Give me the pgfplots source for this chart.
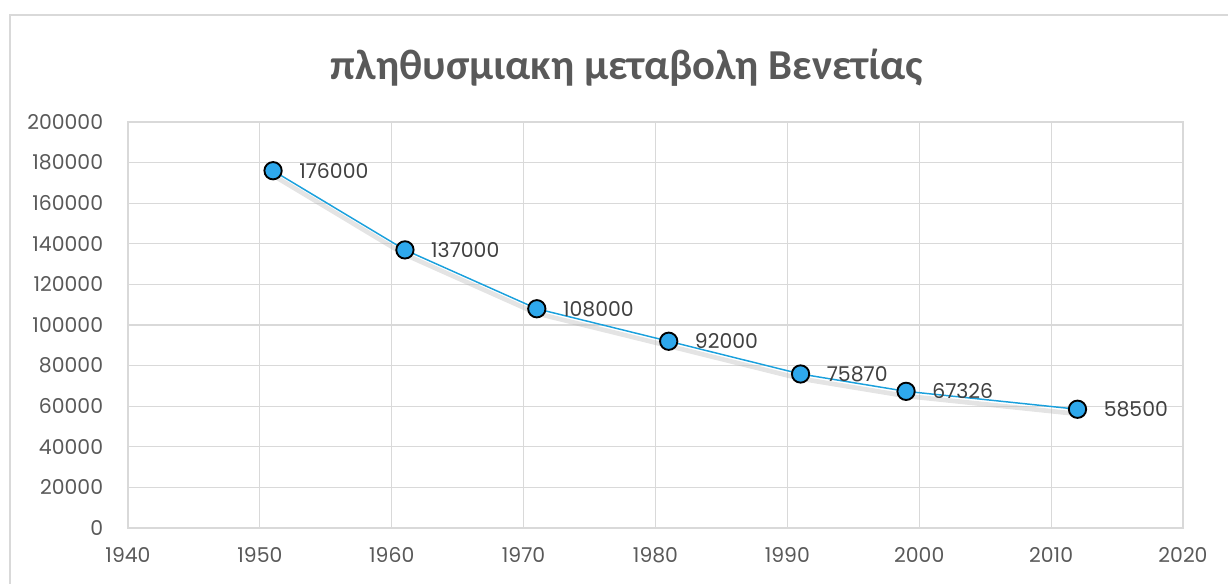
\documentclass[border=0pt]{standalone}
\usepackage{pgfplots}
\pgfplotsset{compat=1.18}
\usepackage{fontspec}
\setmainfont{Poppins}
\newfontfamily\titlefont{Carlito}
\definecolor{gridc}{HTML}{D9D9D9}
\definecolor{txt}{HTML}{595959}
\definecolor{lbl}{HTML}{404040}
\definecolor{linec}{HTML}{1AA0DC}
\definecolor{markc}{HTML}{2EA8EC}
\begin{document}
\begin{tikzpicture}
\useasboundingbox (-96pt,-41.25pt) rectangle (825pt,396pt);
\draw[gridc, line width=1.5pt] (-88.5pt,-60pt) -- (-88.5pt,384.75pt) -- (840pt,384.75pt);
\node[text=txt, font=\titlefont\bfseries\fontsize{32}{36}\selectfont] at (374.25pt,345pt) {πληθυσμιακη μεταβολη Βενετίας};
\begin{axis}[
  at={(0pt,0pt)}, anchor=south west,
  scale only axis, width=791.25pt, height=304.5pt,
  xmin=1940, xmax=2020, ymin=0, ymax=200000,
  xtick={1940,1950,...,2020},
  ytick={0,20000,...,200000},
  grid=major, grid style={gridc, line width=0.9pt},
  axis line style={gridc, line width=0.9pt},
  major tick length=0pt,
  tick label style={font=\fontsize{15.3}{18}\selectfont, text=txt, inner sep=0pt},
  yticklabel style={xshift=-18.5pt},
  xticklabel style={yshift=-14.5pt},
  scaled ticks=false,
  /pgf/number format/assume math mode=true,
  xticklabel={\pgfmathprintnumber[1000 sep={}]{\tick}},
  yticklabel={\pgfmathprintnumber[fixed, 1000 sep={}]{\tick}},
  clip=false,
  nodes near coords,
  point meta=explicit symbolic,
  every node near coord/.append style={anchor=west, xshift=19pt, yshift=0pt, font=\fontsize{15.3}{18}\selectfont, text=lbl, inner sep=0pt},
]
\addplot[black!30, opacity=0.35, line width=3.5pt, forget plot, nodes near coords={}, shift={(0pt,-3.5pt)}] table[meta index=2] {
x y l
1951 176000 {}
1961 137000 {}
1971 108000 {}
1981 92000 {}
1991 75870 {}
1999 67326 {}
2012 58500 {}
};
\addplot[linec, line width=1.1pt, mark=*, mark size=6.5pt, mark options={fill=markc, draw=black, line width=1.4pt}] table[meta index=2] {
x y l
1951 176000 176000
1961 137000 137000
1971 108000 108000
1981 92000 92000
1991 75870 75870
1999 67326 67326
2012 58500 58500
};
\end{axis}
\end{tikzpicture}
\end{document}
